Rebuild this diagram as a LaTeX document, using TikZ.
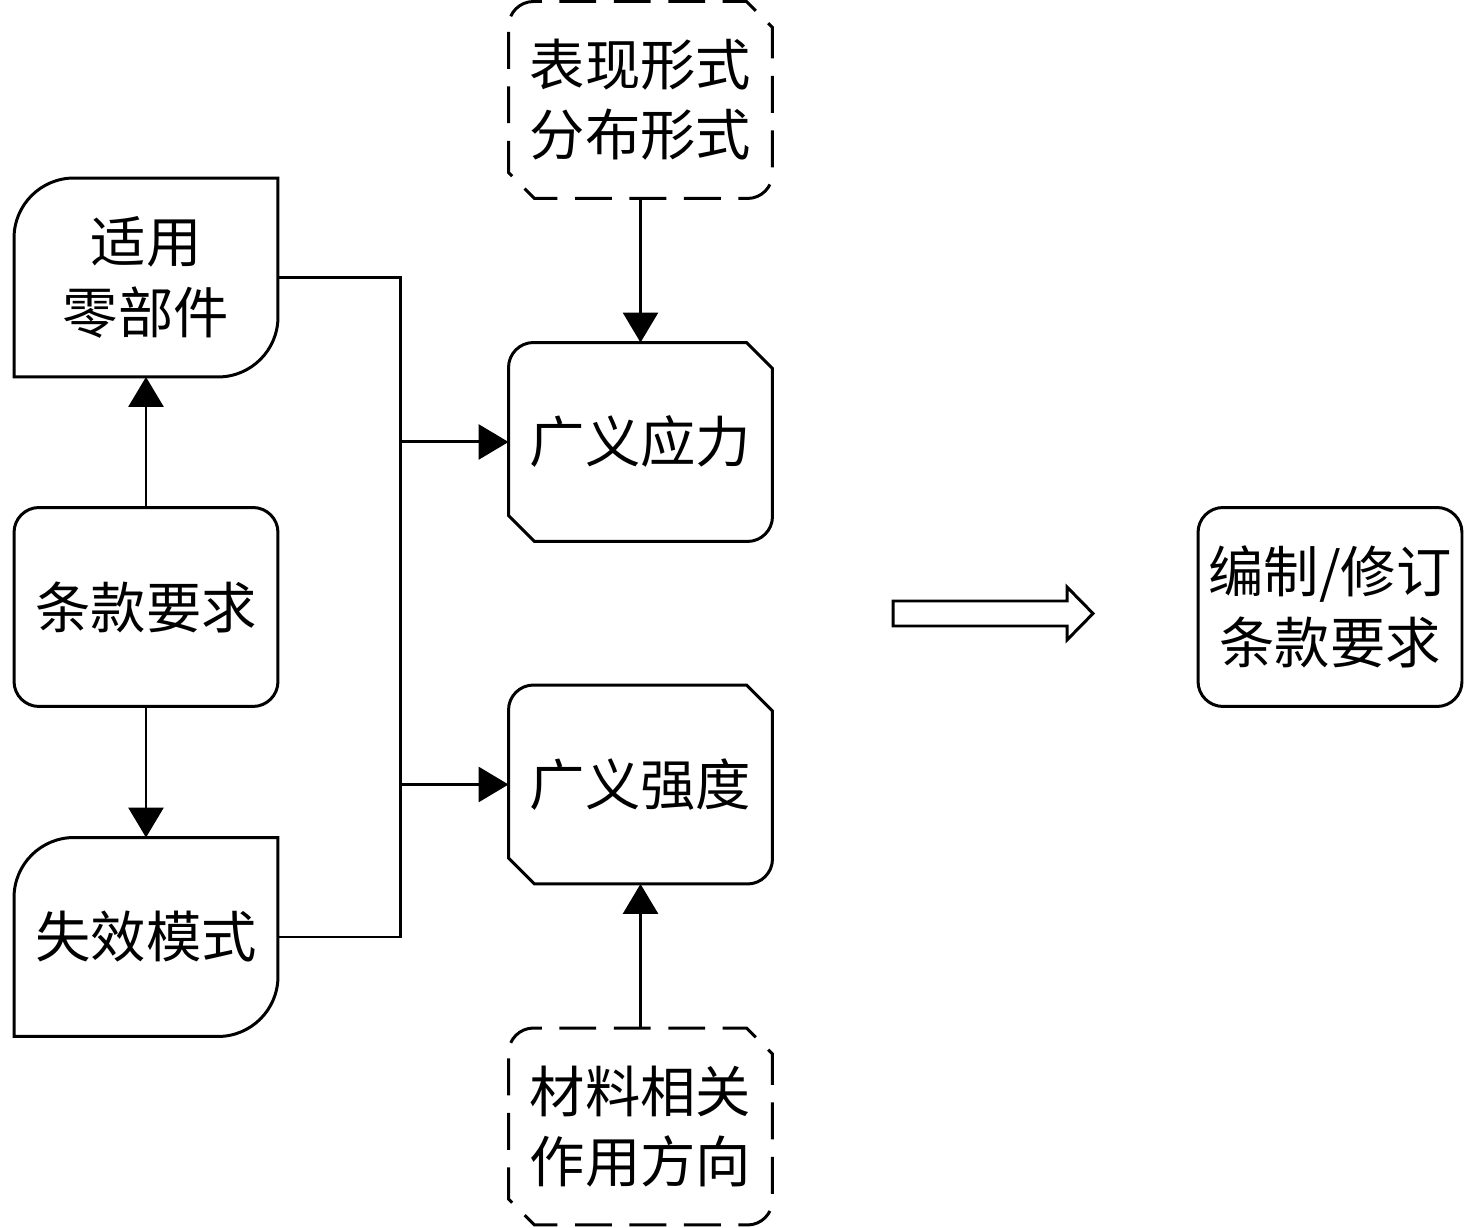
\documentclass[tikz,border=0pt]{standalone}
\usepackage{fontspec}
\setmainfont{Noto Sans CJK SC}
\usetikzlibrary{calc,arrows.meta}
\tikzset{
  line/.style={line width=1.7pt,line join=miter},
  dashline/.style={line width=1.7pt,dash pattern=on 21pt off 10pt,dash phase=-6pt},
  lbl/.style={inner sep=0pt,outer sep=0pt,minimum width=5.28cm,minimum height=3.98cm,align=center,
    font=\fontsize{31.5pt}{40pt}\selectfont},
  dlbl/.style={lbl,minimum height=3.94cm},
  arr/.style={line,-{Triangle[length=0.6cm,width=0.7cm]}},
}
% shape A: top-left and bottom-right rounded
\newcommand{\shapeA}[2][line]{%
  \draw[#1] ($(#2.north west)+(0,-1.2cm)$) arc[start angle=180,end angle=90,radius=1.2cm]
    -- (#2.north east) -- ($(#2.south east)+(0,1.2cm)$)
    arc[start angle=0,end angle=-90,radius=1.2cm] -- (#2.south west) -- cycle;}
% shape B: all rounded
\newcommand{\shapeB}[2][line]{%
  \draw[#1,rounded corners=0.5cm] (#2.north west) rectangle (#2.south east);}
% shape C: TL round, TR chamfer, BR round, BL chamfer
\newcommand{\shapeC}[2][line]{%
  \draw[#1] ($(#2.north west)+(0,-0.5cm)$) arc[start angle=180,end angle=90,radius=0.5cm]
    -- ($(#2.north east)+(-0.52cm,0)$) -- ($(#2.north east)+(0,-0.52cm)$)
    -- ($(#2.south east)+(0,0.5cm)$) arc[start angle=0,end angle=-90,radius=0.5cm]
    -- ($(#2.south west)+(0.52cm,0)$) -- ($(#2.south west)+(0,0.52cm)$) -- cycle;}
\begin{document}
\begin{tikzpicture}[x=0.02cm,y=0.02cm]
\useasboundingbox (0,0) rectangle (1476,1227);
\node[lbl] (part) at (146,949.5) {适用\\零部件};
\node[lbl] (req) at (146,620) {条款要求};
\node[lbl] (fail) at (146,290) {失效模式};
\node[lbl] (stress) at (640.5,785) {广义应力};
\node[lbl] (strength) at (640.5,442.5) {广义强度};
\node[dlbl] (form) at (640.5,1127) {表现形式\\分布形式};
\node[dlbl] (mat) at (640.5,100.5) {材料相关\\作用方向};
\node[lbl] (out) at (1330,620) {编制/修订\\条款要求};
\shapeA{part}
\shapeB{req}
\shapeA{fail}
\shapeC{stress}
\shapeC{strength}
\shapeC[dashline]{form}
\shapeC[dashline]{mat}
\shapeB{out}
% connectors
\draw[arr] (req.north) -- (part.south);
\draw[arr] (req.south) -- (fail.north);
\coordinate (bus) at (400,0);
\draw[line] (part.east) -- (part.east -| bus) -- (fail.east -| bus) -- (fail.east);
\draw[arr] (stress.west -| bus) -- (stress.west);
\draw[arr] (strength.west -| bus) -- (strength.west);
\draw[arr] (form.south) -- (stress.north);
\draw[arr] (mat.north) -- (strength.south);
% hollow arrow
\coordinate (harrow) at (893,613.5);
\draw[line,fill=white] (harrow) ++(0,12.5) -- ++(174,0) -- ++(0,14) -- (1093,613.5)
  -- (1067,587) -- ++(0,14) -- ++(-174,0) -- cycle;
\end{tikzpicture}
\end{document}
